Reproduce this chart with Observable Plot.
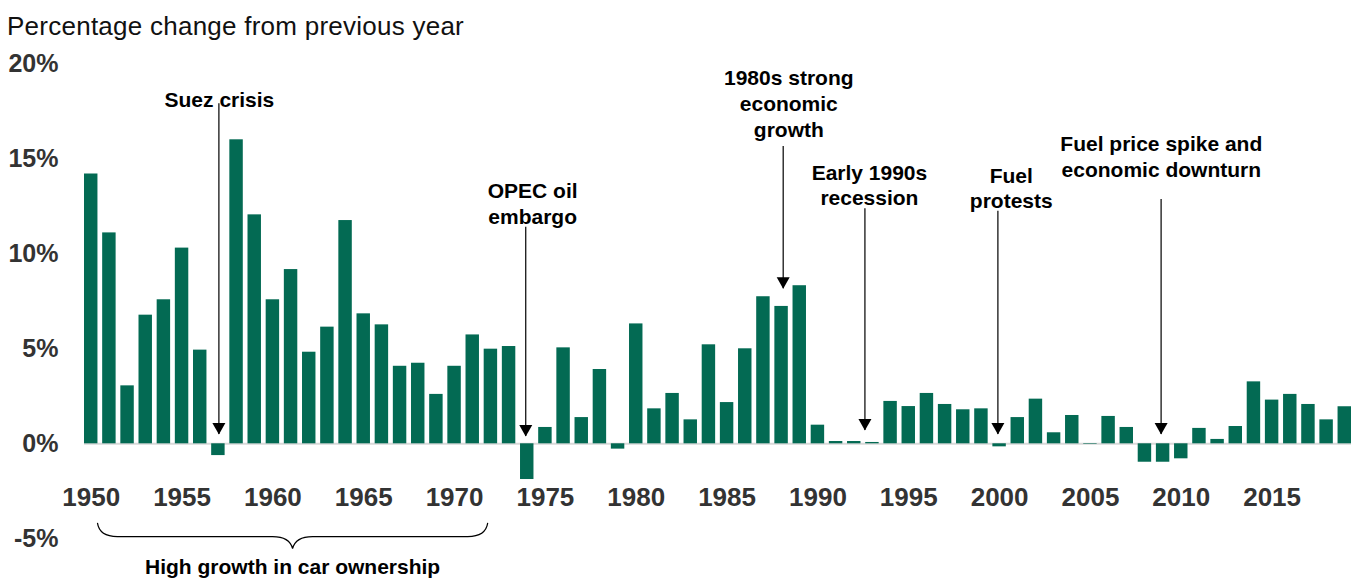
<!DOCTYPE html>
<html><head><meta charset="utf-8">
<script src="https://cdn.jsdelivr.net/npm/d3@7"></script>
<script src="https://cdn.jsdelivr.net/npm/@observablehq/plot@0.6"></script>
<style>
html,body{margin:0;padding:0;background:#fff;}
#title{height:46px;padding-top:2px;line-height:48px;font-family:"Liberation Sans",Arial,sans-serif;font-size:26px;letter-spacing:0.25px;color:#111;padding-left:7px;white-space:nowrap;overflow:hidden;}
#chart svg{overflow:visible;display:block;}
</style></head><body>
<div id="title">Percentage change from previous year</div>
<div id="chart"></div>
<script>
// ---- data ----
const years = [1950,1951,1952,1953,1954,1955,1956,1957,1958,1959,
  1960,1961,1962,1963,1964,1965,1966,1967,1968,1969,
  1970,1971,1972,1973,1974,1975,1976,1977,1978,1979,
  1980,1981,1982,1983,1984,1985,1986,1987,1988,1989,
  1990,1991,1992,1993,1994,1995,1996,1997,1998,1999,
  2000,2001,2002,2003,2004,2005,2006,2007,2008,2009,
  2010,2011,2012,2013,2014,2015,2016,2017,2018,2019];
const growth = [14.2,11.1,3.05,6.77,7.58,10.3,4.93,-0.62,16.0,12.05,
  7.58,9.17,4.82,6.14,11.75,6.84,6.26,4.08,4.24,2.6,
  4.08,5.73,4.98,5.12,-1.88,0.86,5.05,1.38,3.91,-0.28,
  6.31,1.84,2.65,1.26,5.21,2.17,5.0,7.74,7.23,8.32,
  0.98,0.12,0.12,0.07,2.23,1.96,2.65,2.07,1.79,1.84,
  -0.16,1.38,2.35,0.58,1.49,-0.03,1.44,0.86,-0.97,-0.97,
  -0.79,0.81,0.23,0.91,3.26,2.3,2.6,2.07,1.26,1.95];
const yTicks = [-5, 0, 5, 10, 15, 20];
const xTickYears = [1950,1955,1960,1965,1970,1975,1980,1985,1990,1995,2000,2005,2010,2015];
const annotationYears = [1957, 1974, 1988, 1993, 2000, 2009];
const annotationLabels = ["Suez crisis", "OPEC oil\nembargo", "1980s strong\neconomic\ngrowth",
  "Early 1990s\nrecession", "Fuel\nprotests", "Fuel price spike and\neconomic downturn"];
const braceLabel = "High growth in car ownership";
const braceYears = [1950, 1972];

// ---- annotation layout (in y units / pixel offsets) ----
const noteLayout = [
  {labelY: 18.15, labelDx: 1,    arrowTop: 17.9,  arrowTip: 0.49, arrowDx: 0.5},
  {labelY: 12.7,  labelDx: 5.4,  arrowTop: 11.4,  arrowTip: 0.38, arrowDx: -1.5},
  {labelY: 17.95, labelDx: 7.2,  arrowTop: 15.65, arrowTip: 8.16, arrowDx: 1.6},
  {labelY: 13.65, labelDx: -3,   arrowTop: 12.37, arrowTip: 0.7,  arrowDx: -7.5},
  {labelY: 13.5,  labelDx: 11.7, arrowTop: 12.24, arrowTip: 0.49, arrowDx: -1.7},
  {labelY: 15.15, labelDx: -1.8, arrowTop: 12.86, arrowTip: 0.49, arrowDx: -2}
];

const data = years.map((year, i) => ({year, value: growth[i]}));
const notes = annotationYears.map((year, i) => ({year, text: annotationLabels[i], ...noteLayout[i]}));

const downTriangle = {
  draw(context) {
    context.moveTo(-6.5, -11.5);
    context.lineTo(6.5, -11.5);
    context.lineTo(0, 0);
    context.closePath();
  }
};

const font = '"Liberation Sans", Arial, sans-serif';

const chart = Plot.plot({
  width: 1359,
  height: 530,
  marginLeft: 84,
  marginRight: 8,
  marginTop: 15.3,
  marginBottom: 39.7,
  style: {fontFamily: font, color: "#333", background: "#fff", overflow: "visible"},
  x: {type: "band", domain: years, paddingInner: 0.26, paddingOuter: 0, round: false},
  y: {domain: [-5, 20]},
  marks: [
    Plot.axisY({ticks: yTicks, tickFormat: d => d + "%", tickSize: 0, tickPadding: 26,
      fontSize: 25, fontWeight: "bold", label: null, fill: "#333"}),
    Plot.axisX({ticks: xTickYears, tickFormat: d => String(d), tickSize: 0, tickPadding: 3, dy: -53.8,
      fontSize: 26, fontWeight: "bold", label: null, fill: "#333"}),
    Plot.ruleY([0], {stroke: "#d9d9d9", strokeWidth: 2}),
    Plot.barY(data, {x: "year", y: "value", fill: "#036a53"}),
    ...notes.flatMap(n => [
      Plot.ruleX([n], {x: "year", y1: "arrowTop", y2: "arrowTip", dx: n.arrowDx, stroke: "#000", strokeWidth: 1.2}),
      Plot.dot([n], {x: "year", y: "arrowTip", dx: n.arrowDx, symbol: downTriangle, fill: "#000", stroke: "none"}),
      Plot.text([n], {x: "year", y: "labelY", text: "text", dx: n.labelDx, fontSize: 21, fontWeight: "bold",
        fill: "#000", lineHeight: 1.22, lineAnchor: "middle", textAnchor: "middle"})
    ])
  ]
});

// brace under the high-growth years, placed through the chart's scales
const xs = chart.scale("x");
const ys = chart.scale("y");
const bx0 = xs.apply(braceYears[0]) + xs.bandwidth;
const bx1 = xs.apply(braceYears[1]) + 0.3 * xs.bandwidth;
const bmid = (bx0 + bx1) / 2;
const yTop = ys.apply(-4.19), yMid = ys.apply(-4.91), yTip = ys.apply(-5.54);
const r = 20;
const path = `M${bx0},${yTop} Q${bx0 + 2},${yMid} ${bx0 + r},${yMid} L${bmid - r},${yMid} Q${bmid - 3},${yMid} ${bmid},${yTip} Q${bmid + 3},${yMid} ${bmid + r},${yMid} L${bx1 - r},${yMid} Q${bx1 - 2},${yMid} ${bx1},${yTop}`;
const svg = d3.select(chart);
svg.append("path").attr("d", path).attr("fill", "none").attr("stroke", "#000").attr("stroke-width", 1.2);
svg.append("text").attr("x", bmid).attr("y", ys.apply(-6.5)).attr("dy", "0.35em")
  .attr("text-anchor", "middle").attr("font-size", 21).attr("font-weight", "bold")
  .attr("font-family", font).attr("fill", "#000").text(braceLabel);

document.getElementById("chart").appendChild(chart);
</script>
</body></html>
